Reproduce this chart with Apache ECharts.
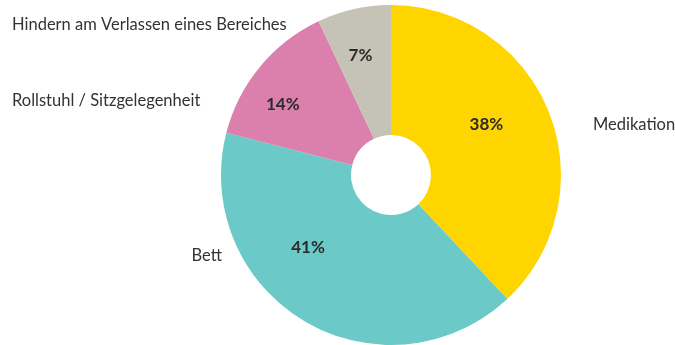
<!DOCTYPE html>
<html>
<head>
<meta charset="utf-8">
<script src="https://cdn.jsdelivr.net/npm/echarts@6/dist/echarts.min.js"></script>
<style>
  html, body { margin: 0; padding: 0; background: #ffffff; }
  #chart { width: 675px; height: 345px; }
</style>
</head>
<body>
<div id="chart"></div>
<script>
// Categories and their shares (percent), clockwise from 12 o'clock
const categories = ['Medikation', 'Bett', 'Rollstuhl / Sitzgelegenheit', 'Hindern am Verlassen eines Bereiches'];
const shares = [38, 41, 14, 7];
const colors = ['#FFD500', '#6BC9C7', '#DB80AD', '#C5C3B5'];

// Nudges for the percentage labels inside the slices
const innerLabelOffsets = [[-5, -11], [-28, -20], [-25, -2], [-7, -14]];
// Placement of the category names around the pie
const outerLabelPlacement = [
  { x: 593, y: 125, align: 'left' },
  { x: 222, y: 256, align: 'right' },
  { x: 12, y: 101, align: 'left' },
  { x: 12, y: 25, align: 'left' }
];

const FONT = 'Lato';
const center = [391, 175];
const radius = [40, 170];

const chart = echarts.init(document.getElementById('chart'), null, { renderer: 'canvas' });

const sliceData = categories.map((name, i) => ({
  name,
  value: shares[i],
  itemStyle: { color: colors[i] },
  label: { offset: innerLabelOffsets[i] }
}));

const nameData = categories.map((name, i) => ({ name, value: shares[i] }));

chart.setOption({
  animation: false,
  series: [
    {
      type: 'pie',
      center,
      radius,
      startAngle: 90,
      clockwise: true,
      silent: true,
      data: sliceData,
      itemStyle: { borderWidth: 0 },
      label: {
        show: true,
        position: 'inside',
        formatter: p => p.value + '%',
        fontFamily: FONT,
        fontWeight: 'bold',
        fontSize: 17,
        color: '#2b2b2b'
      },
      labelLine: { show: false }
    },
    {
      type: 'pie',
      center,
      radius,
      startAngle: 90,
      clockwise: true,
      silent: true,
      z: 1,
      data: nameData,
      itemStyle: { color: 'rgba(0,0,0,0)' },
      label: {
        show: true,
        position: 'outside',
        formatter: p => p.name,
        fontFamily: FONT,
        fontSize: 16.5,
        color: '#333333',
        overflow: 'none',
        width: 400
      },
      labelLine: { show: false },
      labelLayout: p => {
        const pl = outerLabelPlacement[p.dataIndex];
        return { x: pl.x, y: pl.y, align: pl.align, verticalAlign: 'middle', hideOverlap: false, moveOverlap: false };
      }
    }
  ]
});
</script>
</body>
</html>
